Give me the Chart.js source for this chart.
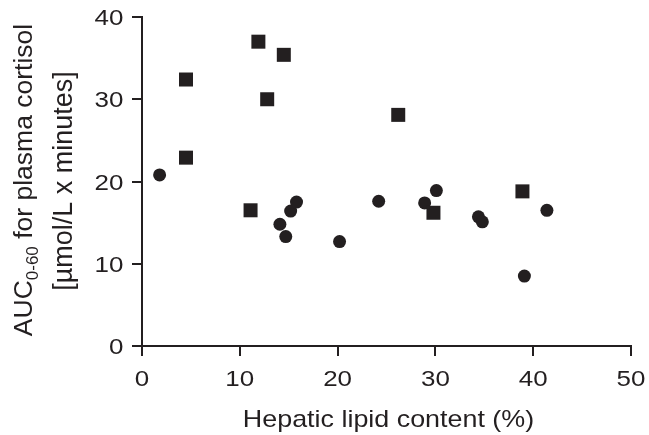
<!DOCTYPE html>
<html>
<head>
<meta charset="utf-8">
<script src="https://cdn.jsdelivr.net/npm/chart.js@4"></script>
<style>
  html, body { margin: 0; padding: 0; background: #fff; }
  #wrap { width: 649px; height: 435px; }
</style>
</head>
<body>
<div id="wrap"><canvas id="chart"></canvas></div>
<script>
const squareX = [4.5, 4.5, 11.1, 11.9, 12.8, 14.5, 26.2, 29.8, 38.9];
const squareY = [32.4, 22.9, 16.5, 37.0, 30.0, 35.4, 28.1, 16.2, 18.8];
const circleX = [1.8, 14.1, 14.7, 15.2, 15.8, 20.2, 24.2, 28.9, 30.1, 34.4, 34.8, 39.1, 41.4];
const circleY = [20.8, 14.8, 13.3, 16.4, 17.5, 12.7, 17.6, 17.4, 18.9, 15.7, 15.1, 8.5, 16.5];
const xTicks = [0, 10, 20, 30, 40, 50];
const yTicks = [0, 10, 20, 30, 40];
const xTitle = "Hepatic lipid content (%)";
const yTitle1 = ["AUC", "0-60", " for plasma cortisol"];
const yTitle2 = "[\u00b5mol/L x minutes]";

const ink = "#231f20";
const fontFamily = "'Liberation Sans', Arial, sans-serif";

function toPoints(xs, ys) {
  return xs.map((x, i) => ({ x: x, y: ys[i] }));
}

// the figure's lettering is wider than Arial, so text is stretched a bit
function wideText(ctx, text, x, y, align, size, stretch) {
  ctx.save();
  ctx.font = size + "px " + fontFamily;
  ctx.textAlign = align;
  ctx.textBaseline = "alphabetic";
  ctx.translate(x, y);
  ctx.scale(stretch, 1);
  ctx.fillText(text, 0, 0);
  ctx.restore();
}

const textPlugin = {
  id: "figText",
  afterDraw(chart) {
    const ctx = chart.ctx;
    const xs = chart.scales.x;
    const ys = chart.scales.y;
    const area = chart.chartArea;
    ctx.save();
    ctx.fillStyle = ink;

    yTicks.forEach(v => {
      wideText(ctx, String(v), 123.5, ys.getPixelForValue(v) + 8, "right", 22, 1.18);
    });
    xTicks.forEach(v => {
      wideText(ctx, String(v), xs.getPixelForValue(v), 385.5, "center", 22, 1.18);
    });
    wideText(ctx, xTitle, (area.left + area.right) / 2 + 2, 427, "center", 24, 1.12);

    // rotated y title, with the 0-60 subscript
    const cy = 180;
    const big = "26.5px " + fontFamily;
    const small = "17px " + fontFamily;
    const parts = [
      { t: yTitle1[0], f: big, dy: 0 },
      { t: yTitle1[1], f: small, dy: 6 },
      { t: yTitle1[2], f: big, dy: 0 }
    ];
    ctx.save();
    ctx.translate(32, cy);
    ctx.rotate(-Math.PI / 2);
    ctx.textBaseline = "alphabetic";
    ctx.textAlign = "left";
    let total = 0;
    parts.forEach(p => { ctx.font = p.f; p.w = ctx.measureText(p.t).width; total += p.w; });
    let px = -total / 2;
    parts.forEach(p => {
      ctx.font = p.f;
      ctx.fillText(p.t, px, p.dy);
      px += p.w;
    });
    ctx.restore();

    ctx.save();
    ctx.translate(72, cy + 1);
    ctx.rotate(-Math.PI / 2);
    ctx.font = "27px " + fontFamily;
    ctx.textAlign = "center";
    ctx.textBaseline = "alphabetic";
    ctx.fillText(yTitle2, 0, 0);
    ctx.restore();

    ctx.restore();
  }
};

new Chart(document.getElementById("chart"), {
  type: "scatter",
  data: {
    datasets: [
      {
        label: "squares",
        data: toPoints(squareX, squareY),
        pointStyle: "rect",
        pointRadius: 9.9,
        pointHoverRadius: 9.9,
        backgroundColor: ink,
        borderColor: ink,
        borderWidth: 0
      },
      {
        label: "circles",
        data: toPoints(circleX, circleY),
        pointStyle: "circle",
        pointRadius: 6.5,
        pointHoverRadius: 6.5,
        backgroundColor: ink,
        borderColor: ink,
        borderWidth: 0
      }
    ]
  },
  options: {
    responsive: true,
    maintainAspectRatio: false,
    animation: false,
    layout: { padding: { top: 17, right: 18, bottom: 0, left: 0 } },
    plugins: {
      legend: { display: false },
      tooltip: { enabled: false }
    },
    scales: {
      x: {
        type: "linear",
        min: 0,
        max: 50,
        afterBuildTicks: scale => { scale.ticks = xTicks.map(v => ({ value: v })); },
        afterFit: scale => { scale.height = 89; },
        border: { color: ink, width: 2 },
        grid: { drawOnChartArea: false, color: ink, lineWidth: 2, tickLength: 10 },
        ticks: { display: false }
      },
      y: {
        type: "linear",
        min: 0,
        max: 40,
        afterBuildTicks: scale => { scale.ticks = yTicks.map(v => ({ value: v })); },
        afterFit: scale => { scale.width = 142; },
        border: { color: ink, width: 2 },
        grid: { drawOnChartArea: false, color: ink, lineWidth: 2, tickLength: 10 },
        ticks: { display: false }
      }
    }
  },
  plugins: [textPlugin]
});
</script>
</body>
</html>
